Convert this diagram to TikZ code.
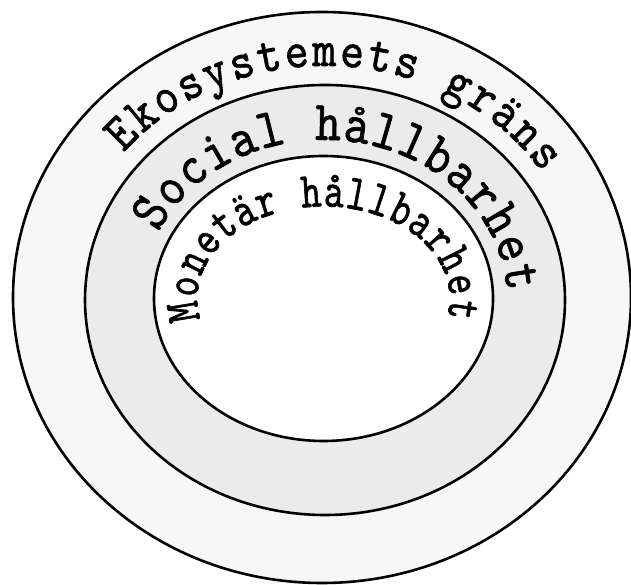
\documentclass[tikz,border=0pt]{standalone}
\usepackage{fontspec}
\newfontfamily\ringfont{lmmono10-regular.otf}[FakeStretch=0.87, FakeBold=1.2]
\newfontfamily\innerfont{lmmono10-regular.otf}[FakeStretch=0.76, FakeBold=1.2]
\usetikzlibrary{decorations.text}
\begin{document}
\begin{tikzpicture}[x=1pt,y=1pt,
  ring/.style={draw=black, line width=2.6pt},
  arctext/.style={decorate, decoration={text along path, text align={fit to path}, text={#1}}}]
\useasboundingbox (0,0) rectangle (631,585);
\fill[white] (0,0) rectangle (631,585);
\draw[ring, fill=black!3] (322,287.5) ellipse [x radius=309, y radius=285.5];
\draw[ring, fill=black!8] (325,285) ellipse [x radius=240, y radius=215];
\draw[ring, fill=white] (323.5,286.5) ellipse [x radius=169.5, y radius=142.5];
\path[arctext={|\ringfont\fontsize{52}{52}\selectfont|Ekosystemets gräns}]
  (325,285) ++(141:259 and 234) arc[start angle=141, end angle=33, x radius=259, y radius=234];
\path[arctext={|\ringfont\fontsize{56}{56}\selectfont|Social hållbarhet}]
  (324,285) ++(155:183 and 160) arc[start angle=155, end angle=3, x radius=183, y radius=160];
\path[arctext={|\innerfont\fontsize{50}{50}\selectfont|Monetär hållbarhet}]
  (323.5,286.5) ++(193:126 and 92) arc[start angle=193, end angle=-12, x radius=126, y radius=92];
\end{tikzpicture}
\end{document}
